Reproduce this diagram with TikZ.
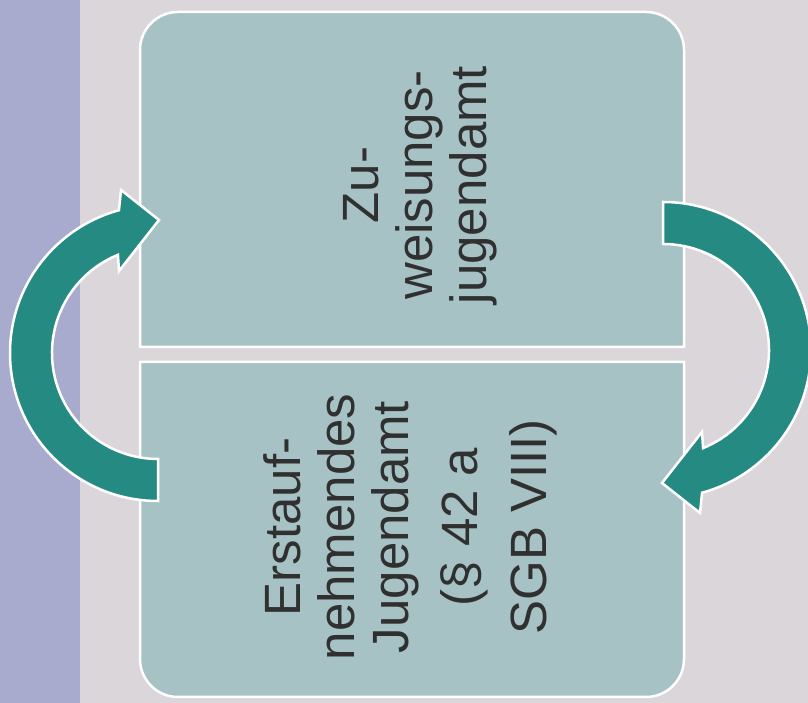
\documentclass[tikz,border=0pt]{standalone}
\usepackage{fontspec}
\setmainfont{Liberation Sans}
\definecolor{hintergrund}{HTML}{DAD6DA}
\definecolor{streifen}{HTML}{A8AACE}
\definecolor{kastenfarbe}{HTML}{A7C2C5}
\definecolor{pfeilfarbe}{HTML}{258A82}
\definecolor{schrift}{HTML}{303030}
\tikzset{
  kasten/.style={fill=kastenfarbe, draw=white, line width=2.5pt},
  pfeil/.style={fill=pfeilfarbe, draw=white, line width=2.5pt, line join=miter},
  beschriftung/.style={rotate=90, align=center, text=schrift, inner sep=0pt,
    font=\fontsize{51}{54}\selectfont},
}
\begin{document}
\begin{tikzpicture}[x=1pt, y=1pt]
  \fill[hintergrund] (0,0) rectangle (808,703);
  \fill[streifen] (0,0) rectangle (80,703);
  \useasboundingbox (0,0) rectangle (808,703);

  \draw[kasten] (140,356) -- (140,653) arc[start angle=180, end angle=90, radius=38]
    -- (646,691) arc[start angle=90, end angle=0, radius=38] -- (684,356) -- cycle;
  \draw[kasten] (684,341) -- (684,44) arc[start angle=0, end angle=-90, radius=38]
    -- (178,6) arc[start angle=270, end angle=180, radius=38] -- (140,341) -- cycle;

  \node[beschriftung] (zuweisung) at (420,518) {Zu-\\weisungs-\\jugendamt};
  \node[beschriftung] (erstaufnahme) at (410,176)
    {Erstauf-\\nehmendes\\Jugendamt\\[15pt](§ 42 a\\[15pt]SGB VIII)};

  \foreach \winkel/\mx/\my in {0/158/350, 180/663/353} {
    \begin{scope}[shift={(\mx,\my)}, rotate=\winkel]
      \draw[pfeil] (0,-148) arc[start angle=270, end angle=105.3, radius=148]
        -- (-37,163) -- (1,133) -- (-39,82) -- (112.2:106)
        arc[start angle=112.2, end angle=270, radius=106] -- cycle;
    \end{scope}
  }
\end{tikzpicture}
\end{document}
